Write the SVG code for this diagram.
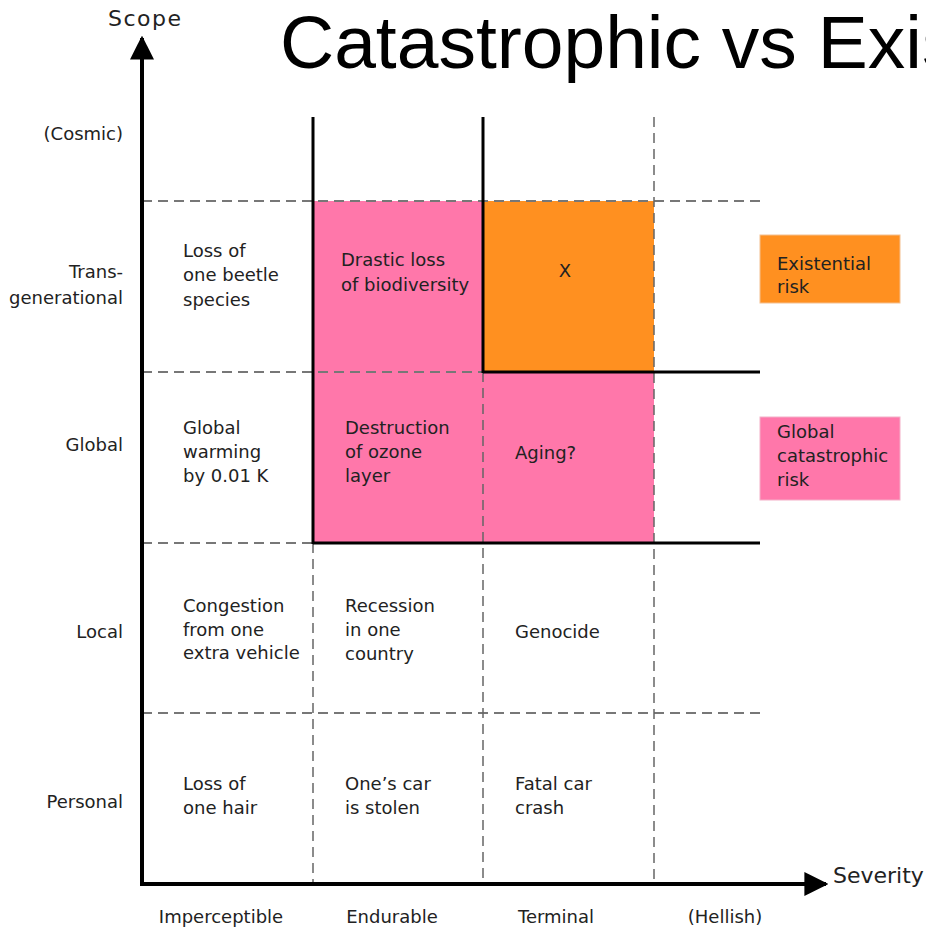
<svg xmlns="http://www.w3.org/2000/svg" width="926" height="929" viewBox="0 0 926 929">
<defs>
<style>
.t{font-family:"DejaVu Sans",Verdana,sans-serif;font-size:18px;fill:#222}
.r{text-anchor:end}
.m{text-anchor:middle}
.ax{font-family:"DejaVu Sans",Verdana,sans-serif;font-size:22px;fill:#222}
.title{font-family:"Liberation Sans",Arial,sans-serif;font-size:75px;fill:#000}
.dash{stroke:#777;stroke-width:2;stroke-dasharray:10 6;fill:none}
.vdash{stroke:#666;stroke-width:1.5;stroke-dasharray:10 6;fill:none}
.solid{stroke:#000;stroke-width:3;fill:none}
.axis{stroke:#000;stroke-width:4;fill:none}
.pink{fill:#ff77aa}
.orange{fill:#ff9020}
</style>
<marker id="arr" viewBox="0 0 10 10" refX="9" refY="5" markerWidth="6" markerHeight="6" markerUnits="strokeWidth" orient="auto">
<path d="M0,0 L10,5 L0,10 Z" fill="#000"/>
</marker>
</defs>
<rect width="926" height="929" fill="#fff"/>
<text class="title" x="280" y="68">Catastrophic vs Exis</text>

<g id="regions">
<rect class="pink" x="313" y="201" width="170" height="342"/>
<rect class="pink" x="483" y="372" width="171" height="171"/>
<rect class="orange" x="483" y="201" width="171" height="171"/>
</g>

<g id="connectors">
<line class="dash" x1="142" y1="201" x2="760" y2="201"/>
<line class="dash" x1="142" y1="372" x2="483" y2="372"/>
<line class="dash" x1="142" y1="543" x2="313" y2="543"/>
<line class="dash" x1="142" y1="713" x2="760" y2="713"/>
<line class="vdash" x1="313" y1="543" x2="313" y2="884"/>
<line class="vdash" x1="483" y1="372" x2="483" y2="884"/>
<line class="vdash" x1="654" y1="117" x2="654" y2="884"/>
<line class="solid" x1="313" y1="117" x2="313" y2="544"/>
<line class="solid" x1="483" y1="117" x2="483" y2="373"/>
<line class="solid" x1="483" y1="372" x2="760" y2="372"/>
<line class="solid" x1="313" y1="543" x2="760" y2="543"/>
<line class="axis" x1="142" y1="886" x2="142" y2="38" marker-end="url(#arr)"/>
<line class="axis" x1="140" y1="884" x2="826" y2="884" marker-end="url(#arr)"/>
</g>

<g id="axis-labels">
<text class="ax" x="108" y="26" style="letter-spacing:1.5px">Scope</text>
<text class="ax" x="833" y="883">Severity</text>
</g>

<g id="row-labels">
<text class="t r" x="123" y="140">(Cosmic)</text>
<text class="t r" x="123" y="278">Trans-</text>
<text class="t r" x="123" y="304">generational</text>
<text class="t r" x="123" y="451">Global</text>
<text class="t r" x="123" y="638">Local</text>
<text class="t r" x="123" y="808">Personal</text>
</g>

<g id="col-labels">
<text class="t m" x="221" y="923">Imperceptible</text>
<text class="t m" x="392" y="923">Endurable</text>
<text class="t m" x="556" y="923">Terminal</text>
<text class="t m" x="725" y="923">(Hellish)</text>
</g>

<g id="cell-beetle"><text class="t" x="183" y="257">Loss of</text><text class="t" x="183" y="281">one beetle</text><text class="t" x="183" y="306">species</text></g>
<g id="cell-warming"><text class="t" x="183" y="434">Global</text><text class="t" x="183" y="458">warming</text><text class="t" x="183" y="482">by 0.01 K</text></g>
<g id="cell-congestion"><text class="t" x="183" y="612">Congestion</text><text class="t" x="183" y="636">from one</text><text class="t" x="183" y="659">extra vehicle</text></g>
<g id="cell-hair"><text class="t" x="183" y="790">Loss of</text><text class="t" x="183" y="814">one hair</text></g>

<g id="cell-biodiversity"><text class="t" x="341" y="266">Drastic loss</text><text class="t" x="341" y="291">of biodiversity</text></g>
<g id="cell-ozone"><text class="t" x="345" y="434">Destruction</text><text class="t" x="345" y="458">of ozone</text><text class="t" x="345" y="482">layer</text></g>
<g id="cell-recession"><text class="t" x="345" y="612">Recession</text><text class="t" x="345" y="636">in one</text><text class="t" x="345" y="660">country</text></g>
<g id="cell-car"><text class="t" x="345" y="790">One’s car</text><text class="t" x="345" y="814">is stolen</text></g>

<g id="cell-x"><text class="t m" x="565" y="277">X</text></g>
<g id="cell-aging"><text class="t" x="515" y="459">Aging?</text></g>
<g id="cell-genocide"><text class="t" x="515" y="638">Genocide</text></g>
<g id="cell-crash"><text class="t" x="515" y="790">Fatal car</text><text class="t" x="515" y="814">crash</text></g>

<g id="legend-existential">
<rect class="orange" x="760" y="235" width="140" height="68" stroke="#f4c090" stroke-width="1"/>
<text class="t" x="777" y="270">Existential</text><text class="t" x="777" y="293">risk</text>
</g>
<g id="legend-gcr">
<rect class="pink" x="760" y="417" width="140" height="83" stroke="#f4b0c8" stroke-width="1"/>
<text class="t" x="777" y="438">Global</text><text class="t" x="777" y="462">catastrophic</text><text class="t" x="777" y="486">risk</text>
</g>
</svg>
